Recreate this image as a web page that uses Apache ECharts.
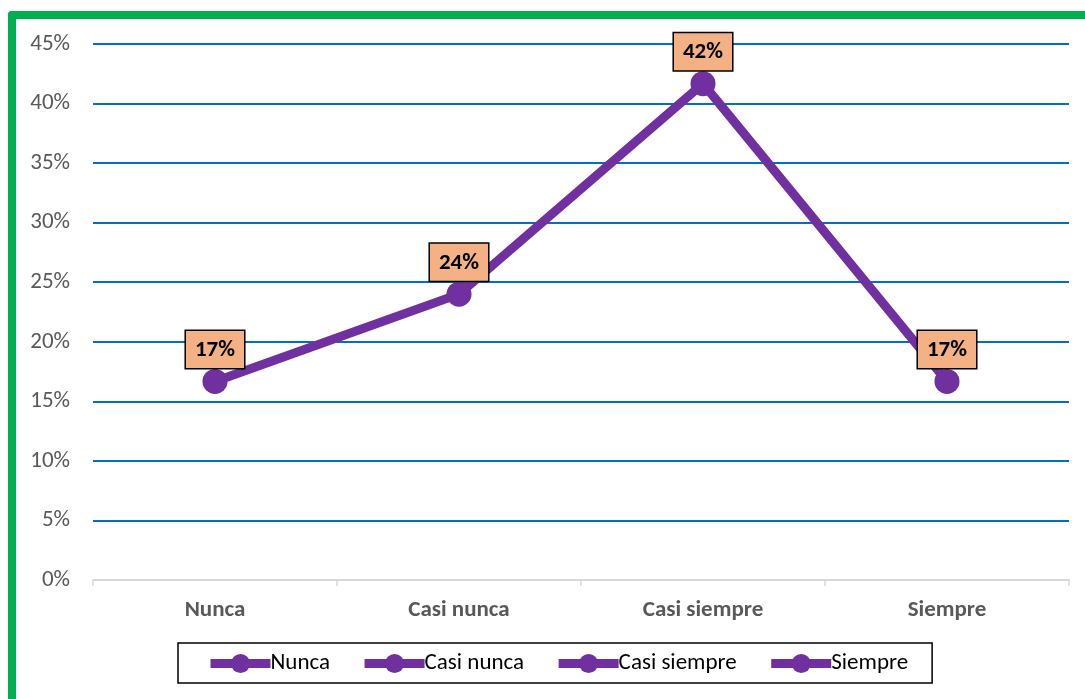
<!DOCTYPE html>
<html>
<head>
<meta charset="utf-8">
<script src="https://cdn.jsdelivr.net/npm/echarts@6/dist/echarts.min.js"></script>
<style>
  html, body { margin: 0; padding: 0; width: 1085px; height: 699px; overflow: hidden; background: #fff; }
  #chart { position: absolute; left: 0; top: 0; width: 1085px; height: 699px; }
  #marco { position: absolute; left: 8px; top: 11px; width: 2000px; height: 2000px;
           border-left: 8px solid #00B050; border-top: 8px solid #00B050; border-top-left-radius: 4px;
           pointer-events: none; }
</style>
</head>
<body>
<div id="chart"></div>
<div id="marco"></div>
<script>
const categorias = ['Nunca', 'Casi nunca', 'Casi siempre', 'Siempre'];
const porcentajes = [0.1667, 0.24, 0.4167, 0.1667];

const morado = '#7030A0';
const fuente = "Carlito, Calibri, 'Open Sans', 'Noto Sans', sans-serif";

const chart = echarts.init(document.getElementById('chart'));

// una serie vacía por categoría, solo para que salgan en la leyenda
const seriesLeyenda = categorias.map(nombre => ({
    name: nombre,
    type: 'line',
    data: [],
    symbol: 'circle',
    symbolSize: 22,
    itemStyle: { color: morado },
    lineStyle: { color: morado, width: 9 }
}));

chart.setOption({
    animation: false,
    textStyle: { fontFamily: fuente },
    grid: { left: 93, right: 16, top: 44, bottom: 119 },
    legend: {
        data: categorias,
        left: 178,
        top: 643,
        padding: [9, 24, 8, 28],
        borderColor: '#000',
        borderWidth: 1.5,
        itemWidth: 60,
        itemHeight: 24,
        itemGap: 30,
        textStyle: { fontSize: 23, color: '#000', fontFamily: fuente, padding: [0, 0, 0, -5] },
        lineStyle: { width: 9 }
    },
    xAxis: {
        type: 'category',
        data: categorias,
        boundaryGap: true,
        z: 5,
        axisLine: { lineStyle: { color: '#d9d9d9', width: 2 } },
        axisTick: { show: true, length: 6, lineStyle: { color: '#d9d9d9', width: 1.5 } },
        axisLabel: { fontSize: 23, fontWeight: 'bold', color: '#595959', margin: 19, fontFamily: fuente },
        splitLine: { show: false }
    },
    yAxis: {
        type: 'value',
        min: 0,
        max: 0.45,
        interval: 0.05,
        axisLine: { show: false },
        axisTick: { show: false },
        axisLabel: {
            fontSize: 23, color: '#595959', margin: 23, fontFamily: fuente,
            formatter: v => Math.round(v * 100) + '%'
        },
        splitLine: { lineStyle: { color: '#0070C0', width: 2 } }
    },
    series: [
        {
            name: 'Porcentaje',
            type: 'line',
            data: porcentajes,
            symbol: 'circle',
            symbolSize: 25,
            itemStyle: { color: morado },
            lineStyle: { color: morado, width: 9 },
            label: {
                show: true,
                position: 'top',
                distance: 1,
                formatter: p => Math.round(p.value * 100) + '%',
                fontSize: 23,
                fontWeight: 'bold',
                color: '#000',
                fontFamily: fuente,
                backgroundColor: '#F4B183',
                borderColor: '#000',
                borderWidth: 1.5,
                padding: [8, 9, 6, 9]
            },
            z: 3
        }
    ].concat(seriesLeyenda)
});
</script>
</body>
</html>
